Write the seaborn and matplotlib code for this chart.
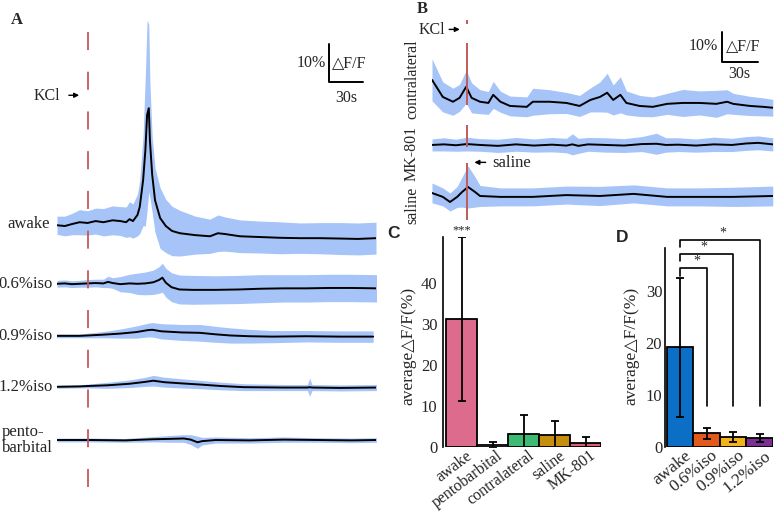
import numpy as np
import pandas as pd
import seaborn as sns
import matplotlib.pyplot as plt
from matplotlib.transforms import ScaledTranslation

# ---------------- panel A traces (dF/F %, relative to each baseline) ----------------
awake_t = [0, 7, 13, 20, 27, 34, 41, 49, 56, 61, 64, 67, 71, 73, 76, 78, 79.5, 81, 82, 84,
           86.5, 91, 96, 101.5, 108.5, 122, 135, 142, 148, 161.5, 179, 197, 214.5, 232, 250, 265.5, 281.5]
awake_mean = [-0.3, -0.5, 0, 0.5, 0.3, 0.8, 0.5, 1.0, 0.8, 0.5, 1.3, 0.8, 2.4, 4.5, 11.6, 19.5, 28.7, 30.5, 22, 13,
              6.3, 1.6, -0.5, -1.8, -2.4, -2.9, -3.2, -2.4, -2.6, -3.2, -3.4, -3.6, -3.7, -3.7, -3.8, -3.9, -3.7]
awake_sd = [2.4, 2.6, 2.8, 3.3, 3.2, 3.4, 3.6, 3.8, 3.8, 4.0, 4.6, 4.5, 5.5, 7, 12, 20, 25, 22, 15, 10,
            8.5, 8, 7, 6.5, 6, 5, 4.5, 4.8, 4.5, 4.3, 4.2, 4.2, 4.0, 4.1, 4.2, 4.2, 4.2]

iso06_t = [0, 7, 13, 20, 27, 34, 41, 45, 49, 56, 64, 71, 78, 85, 90, 93, 96, 101, 108, 120,
           140, 160, 180, 200, 220, 240, 260, 282]
iso06_mean = [0, 0.1, -0.1, 0, 0.1, 0.2, 0.1, 0.5, 0.2, -0.1, 0.1, 0, 0.1, 0.4, 1.0, 1.6, 0.3, -0.9, -1.5, -1.6,
              -1.6, -1.5, -1.3, -1.2, -1.2, -1.1, -1.1, -1.2]
iso06_sd = [0.9, 0.9, 0.9, 0.9, 1.0, 1.0, 1.1, 1.5, 1.4, 2.0, 2.4, 2.8, 3.0, 3.2, 3.5, 3.8, 3.8, 3.8, 3.8, 3.8,
            3.7, 3.7, 3.7, 3.6, 3.6, 3.6, 3.6, 3.6]

iso09_t = [-1.5, 20, 27, 40, 56, 70, 80, 84, 92, 110, 126, 140, 153, 170, 190, 220, 250, 279]
iso09_mean = [0, 0, 0.1, 0.3, 0.6, 1.0, 1.5, 1.6, 1.2, 0.9, 0.8, 0.4, 0.1, -0.1, -0.2, -0.1, -0.2, -0.2]
iso09_sd = [0.5, 0.5, 0.6, 0.8, 1.2, 1.6, 1.8, 1.9, 2.0, 2.1, 2.2, 2.1, 2.0, 1.8, 1.6, 1.5, 1.5, 1.5]

iso12_t = [0, 20, 27, 45, 64, 78, 85, 95, 110, 126, 145, 165, 200, 221, 223, 225, 250, 282]
iso12_mean = [0, 0.1, 0.2, 0.4, 0.8, 1.3, 1.6, 1.2, 0.9, 0.6, 0.2, -0.1, -0.2, -0.2, -0.1, -0.2, -0.3, -0.2]
iso12_sd = [0.4, 0.4, 0.5, 0.8, 1.0, 1.2, 1.4, 1.3, 1.2, 1.1, 1.0, 0.9, 0.8, 0.8, 2.4, 0.8, 0.8, 0.8]

pento_t = [0, 30, 60, 85, 100, 112, 118, 124, 128, 140, 170, 200, 230, 260, 282]
pento_mean = [0, 0, -0.1, 0.2, 0.3, 0.4, 0.1, -0.6, -0.3, 0, -0.1, 0.1, 0, -0.1, 0]
pento_sd = [0.5, 0.5, 0.5, 0.7, 0.9, 1.0, 1.3, 1.6, 1.0, 0.8, 0.7, 0.7, 0.6, 0.6, 0.6]

a_labels = ['awake', '0.6%iso', '0.9%iso', '1.2%iso', 'pento-\nbarbital']
a_offsets = [73.9, 58.2, 44.5, 31.1, 17.1]
a_kcl = 27.3

# ---------------- panel B traces ----------------
contra_t = [0, 9, 17.5, 23, 28.5, 33, 40, 47, 51, 57, 65, 79, 84, 98, 112, 123, 132, 140, 146, 151,
            157, 162, 173, 184, 196, 209, 223, 237, 246, 251, 265, 276, 284]
contra_mean = [8, 2.3, 0.7, 2, 5.7, 2, 0.7, 0.3, 3, 0.7, -0.7, -1, 0.7, 0.7, 0.3, -0.7, 1.3, 2.3, 3.7, 1.3,
               3, 0.3, -0.7, -1, 0, 0.3, 0.3, 0, 0.7, 0, -0.7, -1, -1.3]
contra_sd = [7, 5, 4.5, 4.5, 5.5, 5, 4, 3.8, 4.5, 3.5, 3.3, 3.3, 4.5, 4, 3.5, 3.5, 4, 5, 6.5, 5,
             6, 4, 3.5, 3.3, 3.5, 4.5, 4, 4.5, 4, 3.5, 3.2, 3, 2.8]

mk_t = [0, 10, 20, 29, 40, 55, 70, 85, 100, 112, 117, 122, 130, 145, 160, 175, 187, 195, 205, 220,
        235, 250, 262, 272, 284]
mk_mean = [0, 0.2, -0.1, 0.3, 0, -0.3, 0.2, -0.2, 0.1, -0.2, 0.2, -0.3, 0.2, 0, -0.2, 0.3, 0.4, 0, 0.1, -0.2,
           0.2, 0, 0.5, 0.7, 0.2]
mk_sd = [2.0, 2.2, 2.0, 2.3, 2.1, 2.2, 2.3, 2.2, 2.4, 2.4, 3.5, 2.5, 2.3, 2.4, 2.3, 2.5, 3.5, 2.4, 2.3, 2.2,
         2.4, 2.2, 2.3, 2.3, 2.2]

saline_t = [0, 9, 15, 21, 25, 30, 36, 40, 57, 84, 112, 140, 168, 196, 223, 251, 284]
saline_mean = [1, -0.3, -2, -0.3, 1.3, 3, 1.3, 0, -0.3, -0.3, 0.3, 0, 0.7, -0.3, -0.3, -0.3, 0]
saline_sd = [3.3, 3, 3, 3.5, 5, 7, 5, 3.5, 3, 3, 3, 3.2, 3, 3, 3, 3.2, 3.3]

b_labels = ['contralateral', 'MK-801', 'saline']
b_offsets = [43.7, 30, 13]
b_label_y = [52, 27.3, 10]
b_kcl = 28.9

# ---------------- panel C / D bars ----------------
c_groups = ['awake', 'pentobarbital', 'contralateral', 'saline', 'MK-801']
c_mean = [31.2, 0.5, 3.2, 2.85, 0.9]
c_err = [20.0, 0.7, 4.6, 3.5, 1.6]
c_colors = ['#dc6b8e', '#ffffff', '#3dba74', '#c58e0c', '#d8606e']

d_groups = ['awake', '0.6%iso', '0.9%iso', '1.2%iso']
d_mean = [19.2, 2.6, 2.0, 1.7]
d_err = [13.4, 1.1, 0.95, 0.8]
d_colors = ['#0b6fc6', '#e2591c', '#f2b21c', '#7c2f91']

BAND = '#a6c4f8'
RED = '#c05a5a'
W, H = 778, 511

sns.set_style('white')
plt.rcParams['font.family'] = ['Liberation Serif', 'DejaVu Sans']


def box(x0, y0, x1, y1):
    return [x0 / W, 1 - y1 / H, (x1 - x0) / W, (y1 - y0) / H]


def trace(ax, t, mean, sd, off):
    t = np.array(t, float)
    m = np.array(mean, float) + off
    s = np.array(sd, float)
    ax.fill_between(t, m - s, m + s, color=BAND, lw=0, zorder=1)
    sns.lineplot(x=t, y=m, ax=ax, color='black', linewidth=1.4, sort=False, estimator=None, zorder=2)


fig = plt.figure(figsize=(W / 100, H / 100), dpi=100)

# ---------------- A ----------------
axA = fig.add_axes(box(57, 20, 376, 505))
a_traces = [(awake_t, awake_mean, awake_sd), (iso06_t, iso06_mean, iso06_sd),
            (iso09_t, iso09_mean, iso09_sd), (iso12_t, iso12_mean, iso12_sd),
            (pento_t, pento_mean, pento_sd)]
for (t, m, s), off in zip(a_traces, a_offsets):
    trace(axA, t, m, s, off)
axA.plot([a_kcl, a_kcl], [124.5, 1.3], color=RED, lw=1.3, dashes=(10, 12), zorder=3)
axA.set_xlim(0, 281.5)
axA.set_ylim(0, 127.6)
axA.axis('off')

for lab, off in zip(a_labels[:4], a_offsets[:4]):
    axA.text(-3.5 if lab != 'awake' else -6, off, lab, ha='right', va='center', fontsize=12)
axA.text(-48.5, a_offsets[4], a_labels[4], ha='left', va='center', fontsize=12, linespacing=1.05)

axA.text(2.6, 107.6, 'KCl', ha='right', va='center', fontsize=11.5)
axA.annotate('', xy=(22, 107.8), xytext=(8, 107.8),
             arrowprops=dict(arrowstyle='-|>', color='black', lw=1, mutation_scale=7))
# scale bar A: 10 % / 30 s
axA.plot([240, 240, 270], [121.3, 111.3, 111.3], color='black', lw=1.4)
axA.text(237, 116.3, '10%', ha='right', va='center', fontsize=11.5)
axA.text(243, 116.3, '△F/F', ha='left', va='center', fontsize=11.5)
axA.text(255, 107.2, '30s', ha='center', va='center', fontsize=11.5)

# ---------------- B ----------------
axB = fig.add_axes(box(432, 15, 773, 235))
b_traces = [(contra_t, contra_mean, contra_sd), (mk_t, mk_mean, mk_sd),
            (saline_t, saline_mean, saline_sd)]
for (t, m, s), off in zip(b_traces, b_offsets):
    trace(axB, t, m, s, off)
axB.vlines([b_kcl] * 4, [70.3, 43.3, 29.3, 5], [71.7, 64, 36.7, 24], color=RED, lw=1.4, zorder=3)
axB.set_xlim(0, 284.2)
axB.set_ylim(0, 73.3)
axB.axis('off')
for lab, y in zip(b_labels, b_label_y):
    axB.text(-16.7, y, lab, rotation=90, ha='center', va='center', fontsize=11.5)
axB.text(11, 68.3, 'KCl', ha='right', va='center', fontsize=11.5)
axB.annotate('', xy=(25.5, 68.5), xytext=(12, 68.5),
             arrowprops=dict(arrowstyle='-|>', color='black', lw=1, mutation_scale=7))
axB.text(50, 24, 'saline', ha='left', va='center', fontsize=12)
axB.annotate('', xy=(33, 24.2), xytext=(47, 24.2),
             arrowprops=dict(arrowstyle='-|>', color='black', lw=1, mutation_scale=7))
axB.plot([241.7, 241.7, 271.7], [67.7, 57.7, 57.7], color='black', lw=1.4)
axB.text(238.5, 63, '10%', ha='right', va='center', fontsize=11.5)
axB.text(245, 63, '△F/F', ha='left', va='center', fontsize=11.5)
axB.text(256, 53.8, '30s', ha='center', va='center', fontsize=11.5)


# ---------------- C / D ----------------
def bars(ax, groups, mean, err, colors, rot, size):
    df = pd.DataFrame({'group': groups, 'value': mean})
    sns.barplot(data=df, x='group', y='value', hue='group', palette=colors, legend=False,
                width=1.0, edgecolor='black', linewidth=1.3, errorbar=None, saturation=1, ax=ax)
    ax.errorbar(range(len(groups)), mean, yerr=err, fmt='none', ecolor='black',
                elinewidth=1.3, capsize=3, capthick=1.3, zorder=5)
    sns.despine(ax=ax, bottom=True)
    ax.spines['left'].set_color('black')
    ax.spines['left'].set_linewidth(1.2)
    ax.set_xlabel('')
    ax.set_ylabel('')
    ax.tick_params(axis='y', length=0, pad=4, labelsize=12)
    ax.tick_params(axis='x', length=0, pad=0.5, labelsize=size)
    ax.set_xticks(range(len(groups)))
    ax.set_xticklabels(groups, rotation=rot, ha='right', rotation_mode='anchor')
    shift = ScaledTranslation(4 / 100, 0, fig.dpi_scale_trans)
    for lbl in ax.get_xticklabels():
        lbl.set_transform(lbl.get_transform() + shift)
    ax.patch.set_alpha(0)


axC = fig.add_axes(box(443, 237, 601, 447))
bars(axC, c_groups, c_mean, c_err, c_colors, 37, 11.5)
axC.set_xlim(-0.6, 4.5)
axC.set_ylim(0, 51.3)
axC.set_yticks([0, 10, 20, 30, 40])
axC.text(0, 51.4, '***', ha='center', va='bottom', fontsize=9)

axD = fig.add_axes(box(665, 248, 773, 447))
bars(axD, d_groups, d_mean, d_err, d_colors, 39, 12.5)
axD.set_xlim(-0.575, 3.5)
axD.set_ylim(0, 38.3)
axD.set_yticks([0, 10, 20, 30])
axD.tick_params(axis='y', pad=2)
# significance brackets from awake to each iso group
for j, (h, sx) in enumerate(zip([34.4, 37.2, 39.9], [0.62, 0.9, 1.6])):
    axD.plot([0, 0, j + 1, j + 1], [h - 1.4, h, h, 7.8], color='black', lw=1.2, clip_on=False)
    axD.text(sx, h + 0.1, '*', ha='center', va='bottom', fontsize=10)

fig.text(408 / W, 1 - 346 / H, 'average△F/F(%)', rotation=90, ha='center', va='center', fontsize=12.5)
fig.text(631 / W, 1 - 346 / H, 'average△F/F(%)', rotation=90, ha='center', va='center', fontsize=12.5)

# panel letters
fig.text(17 / W, 1 - 20 / H, 'A', ha='center', va='center', fontsize=12, fontweight='bold')
fig.text(422 / W, 1 - 9 / H, 'B', ha='center', va='center', fontsize=12, fontweight='bold')
fig.text(394 / W, 1 - 234 / H, 'C', ha='center', va='center', fontsize=12.5, fontweight='bold',
         family='Liberation Sans')
fig.text(622 / W, 1 - 238 / H, 'D', ha='center', va='center', fontsize=12.5, fontweight='bold',
         family='Liberation Sans')

fig.savefig('out.png', dpi=100)
